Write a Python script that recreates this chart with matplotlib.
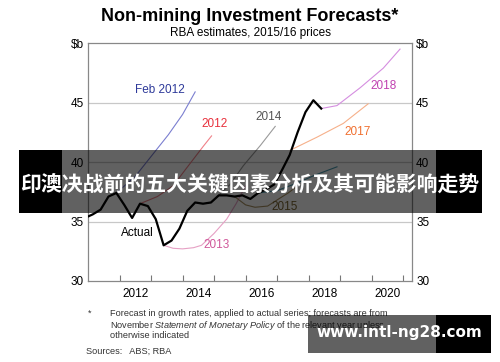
import matplotlib
matplotlib.use('Agg')
import matplotlib.pyplot as plt
from matplotlib.patches import Rectangle

plt.rcParams['font.family'] = ['Liberation Sans', 'DejaVu Sans']
plt.rcParams['mathtext.fontset'] = 'custom'
plt.rcParams['mathtext.rm'] = 'Liberation Sans'
plt.rcParams['mathtext.it'] = 'Liberation Sans:italic'

# actual series (quarterly, $b, 2015/16 prices)
actual_x = [2010.9, 2011.15, 2011.4, 2011.65, 2011.9, 2012.15, 2012.4, 2012.65,
            2012.9, 2013.15, 2013.4, 2013.65, 2013.9, 2014.15, 2014.4, 2014.65,
            2014.9, 2015.15, 2015.4, 2015.65, 2015.9, 2016.15, 2016.4, 2016.65,
            2016.9, 2017.15, 2017.4, 2017.65, 2017.9, 2018.15, 2018.4]
actual_y = [35.3, 35.6, 36.0, 37.1, 37.4, 36.4, 35.3, 36.5,
            36.3, 35.2, 33.0, 33.4, 34.4, 35.9, 36.6, 36.5,
            36.6, 37.2, 37.2, 37.1, 37.2, 36.9, 37.4, 37.7,
            38.1, 39.3, 40.6, 42.5, 44.2, 45.2, 44.5]

# forecasts
feb2012_x = [2011.9, 2012.5, 2013.25, 2013.55, 2014.0, 2014.4]
feb2012_y = [37.4, 38.8, 41.3, 42.3, 44.0, 45.9]
f2012_x = [2012.65, 2013.2, 2013.7, 2014.1, 2014.65, 2014.92]
f2012_y = [36.5, 37.1, 38.0, 39.4, 41.3, 42.2]
f2013_x = [2013.4, 2013.7, 2014.0, 2014.35, 2014.6, 2015.0, 2015.4, 2015.7, 2016.0]
f2013_y = [33.0, 32.75, 32.7, 32.8, 33.0, 34.0, 35.2, 36.5, 38.0]
f2014_x = [2014.9, 2015.5, 2015.93, 2016.47, 2016.94]
f2014_y = [36.6, 38.1, 39.7, 41.4, 43.0]
f2015_x = [2015.65, 2015.8, 2016.0, 2016.3, 2016.7, 2017.05, 2017.35, 2017.6]
f2015_y = [37.1, 36.8, 36.4, 36.2, 36.3, 36.9, 37.4, 37.9]
f2016_x = [2016.4, 2017.0, 2017.6, 2018.2, 2018.9]
f2016_y = [37.4, 37.6, 38.2, 38.9, 39.6]
f2017_x = [2017.42, 2018.27, 2019.1, 2019.89]
f2017_y = [41.0, 42.1, 43.25, 44.9]
f2018_x = [2018.4, 2018.9, 2019.64, 2020.37, 2020.9]
f2018_y = [44.5, 44.75, 46.26, 47.9, 49.5]

year_ticks = [2012, 2013, 2014, 2015, 2016, 2017, 2018, 2019, 2020, 2021]
year_labels = ['2012', '2014', '2016', '2018', '2020']
y_ticks = [30, 35, 40, 45, 50]
y_labels = ['30', '35', '40', '45', r'\$b']

fig = plt.figure(figsize=(5, 3.62), dpi=100)
ax = fig.add_axes([0.176, 0.2238, 0.648, 0.657])

for y in [35, 40, 45]:
    ax.axhline(y, color='#c8c8c8', lw=0.9, zorder=0)

ax.plot(feb2012_x, feb2012_y, color='#7b7fd0', lw=0.8)
ax.plot(f2012_x, f2012_y, color='#f08088', lw=0.8)
ax.plot(f2013_x, f2013_y, color='#e6a0c4', lw=0.8)
ax.plot(f2014_x, f2014_y, color='#9a9a9a', lw=0.8)
ax.plot(f2015_x, f2015_y, color='#a89060', lw=0.8)
ax.plot(f2016_x, f2016_y, color='#4a9ab0', lw=0.8)
ax.plot(f2017_x, f2017_y, color='#f6b08a', lw=0.8)
ax.plot(f2018_x, f2018_y, color='#d58ee0', lw=0.8)
ax.plot(actual_x, actual_y, color='black', lw=1.6, zorder=5)

lab = dict(fontsize=8.5, ha='center', va='center')
ax.text(2013.27, 46.1, 'Feb 2012', color='#2e3a9a', **lab)
ax.text(2015.01, 43.16, '2012', color='#e8303c', **lab)
ax.text(2016.72, 43.75, '2014', color='#555555', **lab)
ax.text(2020.37, 46.4, '2018', color='#c040b0', **lab)
ax.text(2019.57, 42.57, '2017', color='#f07030', **lab)
ax.text(2017.23, 36.2, '2015', color='#7a6530', **lab)
ax.text(2015.07, 33.0, '2013', color='#d0589a', **lab)
ax.text(2012.57, 34.0, 'Actual', color='black', **lab)

ax.set_xlim(2011.0, 2021.28)
ax.set_ylim(30, 50)
ax.set_xticks(year_ticks)
ax.set_xticklabels([''] * len(year_ticks))
ax.set_xticks([int(l) + 0.5 for l in year_labels], minor=True)
ax.set_xticklabels(year_labels, minor=True)
ax.tick_params(axis='x', which='major', direction='in', length=4, color='#777777', width=0.8)
ax.tick_params(axis='x', which='minor', length=0, labelsize=8.5, pad=5)
ax.set_yticks(y_ticks)
ax.set_yticklabels(y_labels)
ax.tick_params(axis='y', length=0, labelsize=8.5, pad=3, labelright=True)
for s in ax.spines.values():
    s.set_color('#888888')
    s.set_linewidth(0.9)

fig.text(0.5, 0.955, 'Non-mining Investment Forecasts*', ha='center', va='center',
         fontsize=13, fontweight='bold')
fig.text(0.5, 0.908, 'RBA estimates, 2015/16 prices', ha='center', va='center', fontsize=8.5)

fn = dict(fontsize=6.6, color='#333333', va='center')
fig.text(0.176, 1 - 313 / 362, '*', **fn)
fig.text(0.22, 1 - 313 / 362, 'Forecast in growth rates, applied to actual series; forecasts are from', **fn)
fig.text(0.22, 1 - 325 / 362, 'November $\\it{Statement\\ of\\ Monetary\\ Policy}$ of the relevant year unless', **fn)
fig.text(0.22, 1 - 336 / 362, 'otherwise indicated', **fn)
fig.text(0.173, 1 - 351 / 362, 'Sources:   ABS; RBA', **fn)

# overlay banner
def box(x0, x1, y0, y1, alpha):
    fig.add_artist(Rectangle((x0 / 500, 1 - y1 / 362), (x1 - x0) / 500, (y1 - y0) / 362,
                             transform=fig.transFigure, color='black', alpha=alpha,
                             lw=0, zorder=10))

box(19, 62, 150, 213, 1.0)
box(62, 436, 150, 213, 0.62)
box(436, 482, 150, 213, 1.0)
fig.text(250 / 500, 1 - 184 / 362, '印澳决战前的五大关键因素分析及其可能影响走势',
         ha='center', va='center', fontsize=15, fontweight='bold', color='white',
         family=['Noto Sans CJK SC', 'DejaVu Sans'], zorder=11)

box(308, 436, 315, 353, 0.62)
box(436, 491, 315, 353, 1.0)
fig.text(399 / 500, 1 - 333 / 362, 'www.intl-ng28.com', ha='center', va='center',
         fontsize=11, fontweight='bold', color='white', family=['DejaVu Sans'], zorder=11)

fig.savefig('out.png', dpi=100)
